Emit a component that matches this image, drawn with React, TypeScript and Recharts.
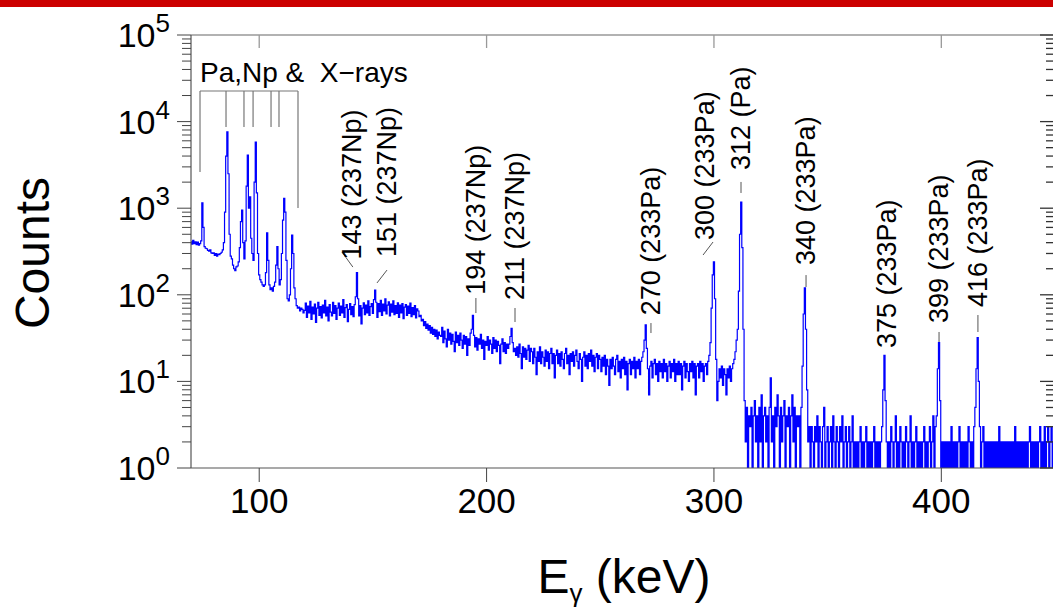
import React from 'react';
import { LineChart, Line, XAxis, YAxis, ReferenceLine, ReferenceDot } from 'recharts';

const FONT = '"Liberation Sans", Arial, Helvetica, sans-serif';

// channel calibration: 0.5 keV per point, starting at 70 keV
const START_KEV = 70;
const STEP_KEV = 0.5;

// counts per channel, one row = 10 keV (20 channels)
const countsXray = [
  410, 385, 425, 390, 410, 380, 405, 375, 390, 420, 1150, 600, 360, 345, 340, 325, 320, 330, 305, 300,
  305, 285, 300, 280, 295, 290, 300, 310, 330, 400, 900, 4000, 7600, 2500, 500, 280, 260, 220, 200, 190,
  210, 215, 240, 350, 700, 950, 400, 260, 420, 1800, 4100, 1000, 1350, 450, 300, 250, 2000, 5800, 1500, 300,
  170, 150, 140, 130, 125, 130, 180, 520, 250, 130, 115, 120, 110, 125, 140, 220, 360, 200, 130, 150,
  300, 730, 1300, 900, 250, 90, 85, 100, 200, 490, 300, 120, 90, 75, 70, 72, 65, 70, 68, 62,
];

const countsPlateau = [
  66, 80, 55, 74, 62, 84, 52, 72, 60, 78, 48, 70, 82, 58, 73, 54, 76, 62, 86, 57,
  72, 50, 77, 63, 57, 82, 61, 75, 52, 70, 80, 58, 74, 62, 88, 55, 71, 77, 49, 68,
  79, 59, 73, 56, 77, 95, 180, 90, 57, 75, 46, 70, 81, 59, 76, 62, 85, 58, 73, 79,
  61, 88, 113, 82, 55, 79, 64, 86, 58, 78, 65, 90, 60, 76, 83, 57, 78, 63, 85, 59,
  75, 61, 81, 55, 76, 62, 79, 53, 72, 77, 58, 74, 61, 80, 56, 71, 59, 75, 54, 69,
  65, 56, 58, 50, 52, 44, 49, 41, 46, 39, 44, 36, 42, 35, 40, 33, 39, 31, 37, 34,
];

const countsMid = [
  33, 42, 28, 38, 31, 25, 40, 30, 36, 27, 35, 29, 22, 37, 28, 34, 26, 36, 30, 24,
  34, 27, 33, 20, 31, 26, 36, 40, 58, 34, 25, 32, 23, 31, 27, 35, 24, 30, 18, 29,
  26, 33, 23, 30, 27, 21, 32, 24, 30, 22, 29, 26, 16, 27, 31, 22, 28, 21, 27, 24,
  27, 33, 41, 28, 22, 24, 20, 25, 19, 27, 21, 14, 25, 19, 24, 18, 23, 26, 17, 24,
  22, 16, 24, 19, 12, 22, 17, 25, 16, 22, 19, 15, 23, 17, 22, 14, 21, 24, 16, 21,
  11, 20, 23, 16, 21, 15, 22, 18, 14, 21, 24, 16, 20, 12, 21, 17, 22, 15, 20, 23,
  17, 14, 21, 18, 10, 19, 22, 15, 20, 14, 21, 17, 23, 15, 20, 13, 19, 21, 14, 20,
];

const countsHigh = [
  18, 13, 19, 15, 20, 12, 18, 15, 9, 18, 14, 19, 15, 12, 18, 20, 13, 17, 11, 18,
  14, 19, 12, 17, 8, 16, 18, 12, 17, 14, 19, 11, 17, 14, 18, 12, 17, 19, 22, 30,
  45, 24, 14, 7, 15, 17, 11, 16, 18, 12, 16, 10, 17, 13, 16, 11, 18, 13, 16, 10,
  15, 17, 11, 16, 13, 18, 10, 16, 12, 17, 12, 16, 8, 15, 17, 11, 16, 13, 10, 16,
  13, 17, 11, 16, 7, 15, 16, 11, 17, 13, 16, 10, 15, 16, 12, 17, 20, 28, 70, 170,
  240, 90, 18, 6, 10, 14, 11, 15, 9, 14, 12, 7, 14, 11, 15, 10, 14, 16, 18, 22,
];

const countsTail = [
  30, 40, 110, 500, 1180, 350, 40, 6, 2, 5, 1, 4, 3, 5, 1, 4, 6, 2, 4, 1,
  5, 2, 7, 1, 4, 5, 2, 4, 1, 5, 11, 2, 4, 1, 5, 3, 7, 4, 1, 5,
  2, 4, 6, 1, 4, 3, 5, 1, 4, 7, 2, 5, 1, 4, 3, 4, 1, 5, 15, 60,
  120, 40, 8, 2, 3, 1, 3, 2, 1, 3, 2, 4, 1, 3, 2, 1, 3, 5, 1, 2,
  3, 1, 2, 3, 1, 4, 2, 1, 3, 2, 1, 3, 2, 4, 1, 2, 3, 1, 2, 3,
  1, 2, 4, 1, 2, 1, 2, 1, 2, 3, 1, 2, 1, 2, 3, 1, 2, 1, 2, 1,
  2, 3, 1, 2, 1, 2, 1, 2, 3, 8, 20, 6, 2, 1, 2, 1, 3, 2, 1, 2,
  4, 1, 2, 1, 3, 2, 1, 2, 1, 3, 2, 1, 2, 4, 1, 2, 1, 2, 3, 1,
  2, 1, 2, 1, 2, 3, 1, 2, 1, 2, 3, 1, 2, 4, 1, 3, 4, 14, 28, 6,
  1, 2, 1, 2, 1, 2, 1, 2, 1, 3, 1, 2, 1, 2, 1, 2, 3, 1, 2, 1,
  2, 1, 2, 1, 3, 2, 1, 2, 1, 3, 5, 14, 32, 10, 3, 1, 2, 3, 1, 2,
  1, 2, 1, 2, 1, 2, 1, 2, 1, 2, 1, 3, 1, 2, 1, 2, 1, 2, 1, 2,
  1, 2, 1, 2, 1, 3, 1, 2, 1, 2, 1, 2, 1, 2, 1, 2, 1, 2, 3, 1,
  2, 1, 2, 1, 2, 1, 2, 3, 1, 2, 1, 3, 1, 2, 3, 1, 2, 3, 1, 2,
  1,
];

const allCounts = [...countsXray, ...countsPlateau, ...countsMid, ...countsHigh, ...countsTail];
const spectrum = allCounts.map((c, i) => ({ e: START_KEV + i * STEP_KEV, c }));

const X_TICKS = [100, 200, 300, 400];
const DECADES = [1, 10, 100, 1000, 10000, 100000];
const Y_TICKS: number[] = [];
DECADES.forEach((d, k) => {
  Y_TICKS.push(d);
  if (k < DECADES.length - 1) for (let m = 2; m <= 9; m++) Y_TICKS.push(d * m);
});

// peak annotations (text start point, in keV / counts)
const peakLabels = ['143 (237Np)', '151 (237Np)', '194 (237Np)', '211 (237Np)', '270 (233Pa)', '300 (233Pa)', '312 (Pa)', '340 (233Pa)', '375 (233Pa)', '399 (233Pa)', '416 (233Pa)'];
const labelKeV = [144.6, 160.2, 199.3, 216.5, 276.3, 300.0, 315.9, 344.4, 380.1, 402.9, 420.1];
const labelCounts = [255, 273, 100, 87, 58, 430, 2760, 221, 24.3, 47.2, 72.3];

// short leader strokes from labels toward peaks
const leaderKeV = [[136.4, 141.2], [156.2, 151.8], [195.3, 195.3], [212.5, 212.5], [272.3, 272.3], [299.6, 295.2], [311.9, 311.9], [340.5, 340.5], [399.0, 399.0], [416.1, 416.1]];
const leaderCounts = [[312, 209], [193, 137], [91.8, 61.6], [70.4, 48.5], [47.2, 36.2], [407, 288], [2009, 1499], [169, 123], [37.2, 26.3], [58.4, 37.2]];

// "Pa,Np & X-rays" bracket
const xrayLineKeV = [73.96, 85.4, 93.3, 97.3, 105.2, 108.7, 117.06];
const xrayLineBottom = [2618, 8660, 8660, 8660, 8660, 8660, 1005];
const BRACKET_TOP = 22550;

const isMajor = (v: number) => Math.abs(Math.log10(v) - Math.round(Math.log10(v))) < 1e-9;

const LeftTick = (props: any) => {
  const { x, y, payload } = props;
  const v = payload.value;
  const major = isMajor(v);
  return (
    <g>
      <line x1={x - (major ? 14 : 9)} y1={y} x2={x} y2={y} stroke="#444" strokeWidth={1} />
      {major && (
        <text x={x - 21} y={y + 12} textAnchor="end" fontSize={34} fill="#000" fontFamily={FONT}>
          <tspan>10</tspan>
          <tspan dy={-15} fontSize={26}>{Math.round(Math.log10(v))}</tspan>
        </text>
      )}
    </g>
  );
};

const RightTick = (props: any) => {
  const { x, y, payload } = props;
  const major = isMajor(payload.value);
  return <line x1={x - (major ? 15 : 9)} y1={y} x2={x} y2={y} stroke="#333" strokeWidth={1.3} />;
};

const BottomTick = (props: any) => {
  const { x, y, payload } = props;
  return (
    <g>
      <line x1={x} y1={y} x2={x} y2={y + 14} stroke="#444" strokeWidth={1} />
      <text x={x} y={y + 45} textAnchor="middle" fontSize={35} fill="#000" fontFamily={FONT}>
        {payload.value}
      </text>
    </g>
  );
};

const TopTick = (props: any) => {
  const { x, y } = props;
  return <line x1={x} y1={y} x2={x} y2={y + 13} stroke="#999" strokeWidth={1.3} />;
};

export default function App() {
  return (
    <div style={{ position: 'absolute', left: 0, top: 0, width: 1053, height: 608, overflow: 'hidden', background: '#fff', fontFamily: FONT }}>
      <div style={{ position: 'absolute', left: 0, top: 0, width: 1053, height: 7, background: '#cc0000', zIndex: 2 }} />
      <LineChart width={1070} height={608} data={spectrum} margin={{ top: 30, right: 10, bottom: 0, left: 0 }}>
        <XAxis
          xAxisId="bottom"
          dataKey="e"
          type="number"
          domain={[70, 450]}
          allowDataOverflow
          ticks={X_TICKS}
          interval={0}
          height={140}
          tickSize={0}
          tickMargin={0}
          tickLine={false}
          axisLine={{ stroke: '#555', strokeWidth: 1.2 }}
          tick={(p: any) => <BottomTick {...p} />}
        />
        <XAxis
          xAxisId="top"
          orientation="top"
          dataKey="e"
          type="number"
          domain={[70, 450]}
          allowDataOverflow
          ticks={X_TICKS}
          interval={0}
          height={5}
          tickSize={0}
          tickMargin={0}
          tickLine={false}
          axisLine={{ stroke: '#999', strokeWidth: 1.5 }}
          tick={(p: any) => <TopTick {...p} />}
        />
        <YAxis
          yAxisId="left"
          scale="log"
          domain={[1, 100000]}
          allowDataOverflow
          ticks={Y_TICKS}
          interval={0}
          width={191}
          tickSize={0}
          tickMargin={0}
          tickLine={false}
          axisLine={{ stroke: '#555', strokeWidth: 1.2 }}
          tick={(p: any) => <LeftTick {...p} />}
        />
        <YAxis
          yAxisId="right"
          orientation="right"
          scale="log"
          domain={[1, 100000]}
          allowDataOverflow
          ticks={Y_TICKS}
          interval={0}
          width={5}
          tickSize={0}
          tickMargin={0}
          tickLine={false}
          axisLine={{ stroke: '#555' }}
          tick={(p: any) => <RightTick {...p} />}
        />

        {/* X-ray bracket */}
        <ReferenceLine
          xAxisId="bottom"
          yAxisId="left"
          segment={[{ x: xrayLineKeV[0], y: BRACKET_TOP }, { x: xrayLineKeV[xrayLineKeV.length - 1], y: BRACKET_TOP }]}
          stroke="#777"
          strokeWidth={1.2}
        />
        {xrayLineKeV.map((k, i) => (
          <ReferenceLine
            key={`xr-${i}`}
            xAxisId="bottom"
            yAxisId="left"
            segment={[{ x: k, y: BRACKET_TOP }, { x: k, y: xrayLineBottom[i] }]}
            stroke="#777"
            strokeWidth={1.2}
          />
        ))}
        <ReferenceDot
          xAxisId="bottom"
          yAxisId="left"
          x={xrayLineKeV[0]}
          y={28650}
          r={0}
          shape={(p: any) => (
            <text x={p.cx} y={p.cy} fontSize={28} fill="#000" fontFamily={FONT} style={{ whiteSpace: 'pre' }}>
              {'Pa,Np &  X\u2212rays'}
            </text>
          )}
        />

        {/* leaders */}
        {leaderKeV.map((k, i) => (
          <ReferenceLine
            key={`ld-${i}`}
            xAxisId="bottom"
            yAxisId="left"
            segment={[{ x: k[0], y: leaderCounts[i][0] }, { x: k[1], y: leaderCounts[i][1] }]}
            stroke="#555"
            strokeWidth={1}
          />
        ))}

        {/* peak labels */}
        {peakLabels.map((t, i) => (
          <ReferenceDot
            key={`pl-${i}`}
            xAxisId="bottom"
            yAxisId="left"
            x={labelKeV[i]}
            y={labelCounts[i]}
            r={0}
            shape={(p: any) => (
              <text
                x={p.cx}
                y={p.cy}
                transform={`rotate(-90 ${p.cx} ${p.cy})`}
                fontSize={27}
                fill="#000"
                fontFamily={FONT}
              >
                {t}
              </text>
            )}
          />
        ))}

        <Line
          xAxisId="bottom"
          yAxisId="left"
          type="step"
          dataKey="c"
          stroke="#0000ff"
          strokeWidth={1.2}
          dot={false}
          isAnimationActive={false}
        />
      </LineChart>
      <svg width={1053} height={608} style={{ position: 'absolute', left: 0, top: 0, pointerEvents: 'none' }}>
        <text transform="translate(49,253) rotate(-90)" textAnchor="middle" fontSize={48} fill="#000" fontFamily={FONT}>
          Counts
        </text>
        <text x={624} y={593} textAnchor="middle" fontSize={48} fill="#000" fontFamily={FONT} style={{ whiteSpace: 'pre' }}>
          E
          <tspan fontSize={26} dy={9}>γ</tspan>
          <tspan dy={-9}>{' (keV)'}</tspan>
        </text>
      </svg>
    </div>
  );
}
